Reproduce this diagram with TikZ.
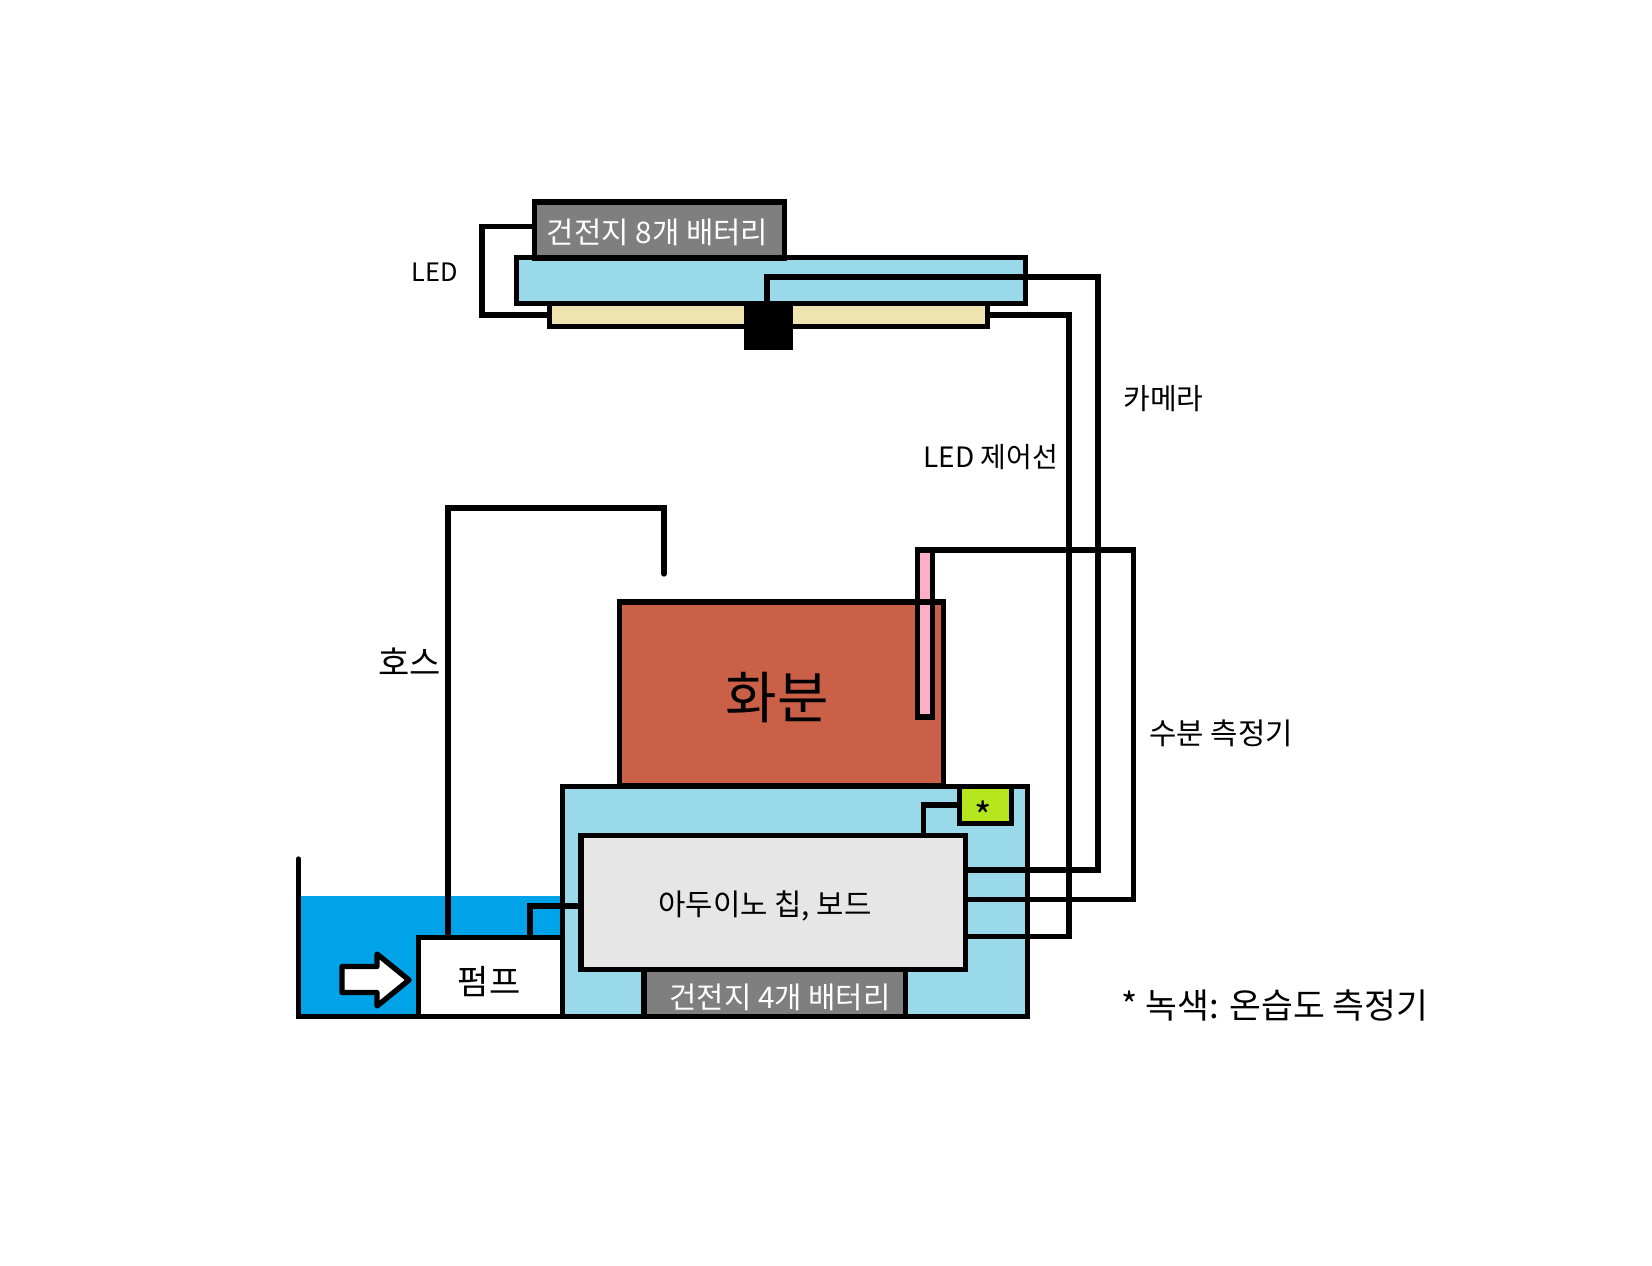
\documentclass[tikz,border=0pt]{standalone}
\usepackage{fontspec}
\setmainfont{Noto Sans CJK KR}
\usepackage{tikz}
\usetikzlibrary{calc}

\definecolor{skyblue}{HTML}{99D9EA}
\definecolor{waterblue}{HTML}{00A2E8}
\definecolor{ledcream}{HTML}{EFE4B0}
\definecolor{batgray}{HTML}{7F7F7F}
\definecolor{boardgray}{HTML}{E6E6E6}
\definecolor{potred}{HTML}{CA6047}
\definecolor{dhtgreen}{HTML}{B5E61D}
\definecolor{probepink}{HTML}{FFAEC9}

\begin{document}
\begin{tikzpicture}[
    x=0.75pt,
    y=-0.75pt,
    wire/.style={line width=4pt, line join=miter},
    box/.style n args={2}{
        rectangle,
        draw,
        line width=4pt,
        inner sep=0pt,
        outer sep=0pt,
        minimum width=#1*0.75pt,
        minimum height=#2*0.75pt
    },
    lbl/.style={inner sep=0pt, font=\fontsize{22.3}{26}\selectfont}
]
\useasboundingbox (0,0) rectangle (1652,1266);

% lamp
\node[box={509}{46}, fill=skyblue] (bar) at (771,280.5) {};
\node[box={250}{56}, fill=batgray] (bat8) at (659.5,230) {};
\node[box={438}{23}, fill=ledcream] (led) at (768.5,315) {};
\node[rectangle, fill=black, inner sep=0pt, minimum width=49*0.75pt, minimum height=45*0.75pt] (cam) at (768.5,327.5) {};
\node[lbl, text=white] (bat8txt) at (657.5,232) {건전지 8개 배터리};

% water and pump
\node[rectangle, fill=waterblue, inner sep=0pt, minimum width=264*0.75pt, minimum height=121*0.75pt] (water) at (430.5,956.5) {};
\node[box={465}{230.5}, fill=skyblue] (base) at (795,901.5) {};
\node[box={144}{79.5}, fill=white] (pump) at (490.5,977) {};
\node[lbl, font=\fontsize{25.5}{30}\selectfont] (pumptxt) at (489,982) {펌프};
\coordinate (tankrim) at (298.5,859);
\draw[wire, line cap=round] (tankrim) |- (base.south west);
\draw[wire, fill=white, line join=round] (342,966.5) -- (377,966.5) -- (377,954) -- (409,980) -- (377,1006) -- (377,992.5) -- (342,992.5) -- cycle;

% pot and probe
\node[box={324}{184}, fill=potred] (pot) at (781.5,694) {};
\node[lbl, font=\fontsize{42}{48}\selectfont] (pottxt) at (777,698) {화분};
\node[box={15}{167}, fill=probepink] (probe) at (925,633.5) {};
\draw[wire] (pot.north west) -- (pot.north east);

% board
\node[box={261.5}{47.5}, fill=batgray] (bat4) at (774.75,993) {};
\node[lbl, text=white] (bat4txt) at (780,997) {건전지 4개 배터리};
\node[box={384.5}{134}, fill=boardgray] (board) at (773.25,902.5) {};
\node[lbl] (boardtxt) at (765,906) {아두이노 칩, 보드};
\node[box={52}{37}, fill=dhtgreen] (dht) at (985.5,805) {};
\node[lbl, font=\fontsize{28}{32}\selectfont] (dhttxt) at (983,816) {*};

% wires
\coordinate (ledpow) at (482,226.6);
\coordinate (ledturn) at (1069,936.5);
\coordinate (camturn) at (1098,277);
\coordinate (camdrop) at (1098,870);
\coordinate (moistdrop) at (1133.5,899.5);
\coordinate (dhtdrop) at (923.5,835.5);
\coordinate (pumpwire) at (530,906);
\coordinate (hoseturn) at (448,508);
\coordinate (hoseend) at (664,574);

\draw[wire] (led.west) -| (ledpow) -- (ledpow -| bat8.west);
\draw[wire] (led.east) -| (ledturn) -- (ledturn -| board.east);
\draw[wire] ($(cam.north)+(-1.5,0)$) |- (camturn) -- (camdrop) -- (camdrop -| board.east);
\draw[wire] (probe.north east) -| (moistdrop) -- (moistdrop -| board.east);
\draw[wire] (dht.west) -| (dhtdrop);
\draw[wire] (pumpwire |- pump.north) -- (pumpwire) -- (pumpwire -| board.west);
\draw[wire, line cap=round] (hoseturn |- pump.north) -- (hoseturn) -| (hoseend);

% labels
\node[lbl, font=\fontsize{19}{22}\selectfont] (ledlbl) at (435,272) {LED};
\node[lbl, font=\fontsize{21}{24}\selectfont] (ctrllbl) at (991,457) {LED 제어선};
\node[lbl, font=\fontsize{21.8}{26}\selectfont] (camlbl) at (1163.5,399) {카메라};
\node[lbl] (moistlbl) at (1221,733) {수분 측정기};
\node[lbl, font=\fontsize{25.5}{30}\selectfont] (hoselbl) at (409.5,662) {호스};
\node[lbl, font=\fontsize{26}{30}\selectfont] (notelbl) at (1275,1005) {* 녹색: 온습도 측정기};
\end{tikzpicture}
\end{document}
